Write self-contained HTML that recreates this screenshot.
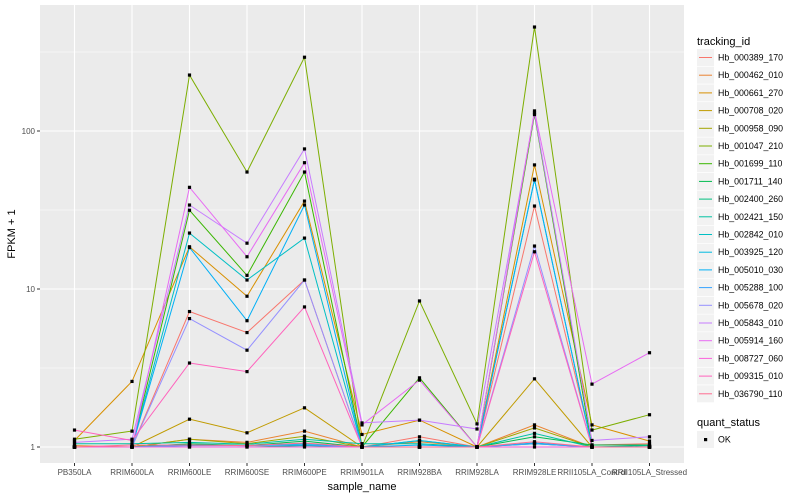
<!DOCTYPE html>
<html><head><meta charset="utf-8"><style>
body{margin:0;background:#fff;}
svg{display:block;font-family:"Liberation Sans",sans-serif;}
</style></head><body>
<svg id="chart" width="800" height="500" xmlns="http://www.w3.org/2000/svg">
<rect x="0" y="0" width="800" height="500" fill="#fff"/>
<rect x="40" y="5" width="644" height="458" fill="#EBEBEB"/>
<g id="grid"></g><g id="series"></g><g id="axes"></g><g id="legend"></g>
<text x="362" y="490" font-size="11" text-anchor="middle" fill="#000">sample_name</text>
<text x="15" y="234" font-size="11" text-anchor="middle" fill="#000" transform="rotate(-90 15 234)">FPKM + 1</text>
</svg>
<script>
const categories=["PB350LA","RRIM600LA","RRIM600LE","RRIM600SE","RRIM600PE","RRIM901LA","RRIM928BA","RRIM928LA","RRIM928LE","RRII105LA_Control","RRII105LA_Stressed"];
const seriesNames=["Hb_000389_170","Hb_000462_010","Hb_000661_270","Hb_000708_020","Hb_000958_090","Hb_001047_210","Hb_001699_110","Hb_001711_140","Hb_002400_260","Hb_002421_150","Hb_002842_010","Hb_003925_120","Hb_005010_030","Hb_005288_100","Hb_005678_020","Hb_005843_010","Hb_005914_160","Hb_008727_060","Hb_009315_010","Hb_036790_110"];
const colors=["#F8766D","#EA8331","#D89000","#C09B00","#A3A500","#7CAE00","#39B600","#00BB4E","#00BF7D","#00C1A3","#00BFC4","#00BAE0","#00B0F6","#35A2FF","#9590FF","#C77CFF","#E76BF3","#FA62DB","#FF62BC","#FF6C91"];
const s0=[1,1,7.2,5.3,11.4,1,1.16,1,33.5,1.03,1.05];
const s1=[1.02,1,1.12,1.07,1.26,1,1.08,1,1.38,1,1];
const s2=[1.1,2.6,18.5,9,36,1.2,1.48,1,61,1.38,1.09];
const s3=[1,1,1.5,1.23,1.77,1,1,1,2.7,1,1];
const s4=[1,1,1.12,1.05,1.17,1,1,1,1.32,1,1];
const s5=[1.12,1.26,226,55,293,1,8.4,1.4,455,1.28,1.6];
const s6=[1,1,31.5,12.2,55,1,2.74,1,127,1,1];
const s7=[1,1,1.05,1.02,1.09,1,1,1,1.16,1.03,1.03];
const s8=[1,1,1,1,1.02,1,1,1,1.05,1,1];
const s9=[1.05,1.05,1.07,1.04,1.12,1.05,1.05,1,1.22,1,1.02];
const s10=[1,1,22.6,11.4,21,1,1.1,1,49.5,1,1];
const s11=[1,1,1.03,1.02,1.05,1,1.1,1,1.06,1,1];
const s12=[1,1,18.3,6.3,34,1,1.03,1,49,1,1];
const s13=[1,1,1.02,1.02,1.03,1,1,1,1.05,1,1];
const s14=[1,1,6.5,4.1,11.4,1,1,1,18.7,1,1];
const s15=[1.07,1.12,34,19.5,77,1.42,1.48,1.3,130,1.1,1.16];
const s16=[1,1,44,16,63,1.38,2.65,1,134,2.5,3.95];
const s17=[1,1,1,1,1,1,1,1,1,1,1];
const s18=[1.28,1.1,3.4,3.0,7.7,1,1,1,17.2,1,1];
const s19=[1,1.03,1.03,1.02,1.06,1,1,1,1.08,1,1];
const seriesValues=[s0,s1,s2,s3,s4,s5,s6,s7,s8,s9,s10,s11,s12,s13,s14,s15,s16,s17,s18,s19];
const yTicks=[1,10,100];
const yTickLabels=["1","10","100"];

const NS="http://www.w3.org/2000/svg";
function mk(tag,attrs,parent){const e=document.createElementNS(NS,tag);for(const k in attrs)e.setAttribute(k,attrs[k]);parent.appendChild(e);return e;}
function xScale(i){return 74.5+i*57.5;}
function yScale(v){return 447-158*Math.log10(v);}
const grid=document.getElementById('grid'),ser=document.getElementById('series'),axes=document.getElementById('axes'),leg=document.getElementById('legend');
// minor grid
yTicks.forEach(t=>{const y=yScale(t*Math.sqrt(10));if(y>5){const l=mk('line',{x1:40,x2:684,y1:y,y2:y,stroke:'#fff','stroke-width':0.5},grid);

}});
yTicks.forEach((t,i)=>{const y=yScale(t);const l=mk('line',{x1:40,x2:684,y1:y,y2:y,stroke:'#fff','stroke-width':1.1},grid);


const tk=mk('line',{x1:37,x2:40,y1:y,y2:y,stroke:'#333','stroke-width':1},axes);


const tx=mk('text',{x:35,y:y+3,'font-size':8,'text-anchor':'end',fill:'#4D4D4D'},axes);tx.textContent=yTickLabels[i];

});
categories.forEach((c,i)=>{const x=xScale(i);const l=mk('line',{x1:x,x2:x,y1:5,y2:463,stroke:'#fff','stroke-width':1.1},grid);


const tk=mk('line',{x1:x,x2:x,y1:463,y2:466,stroke:'#333','stroke-width':1},axes);


const tx=mk('text',{x:x,y:475,'font-size':8,'text-anchor':'middle',fill:'#4D4D4D'},axes);tx.textContent=c;

});
seriesValues.forEach((vals,s)=>{const pts=vals.map((v,i)=>xScale(i).toFixed(1)+','+yScale(v).toFixed(1)).join(' ');
const pl=mk('polyline',{points:pts,fill:'none',stroke:colors[s],'stroke-width':1},ser);

});
seriesValues.forEach((vals,s)=>{vals.forEach((v,i)=>{const p=mk('rect',{x:xScale(i)-1.6,y:yScale(v)-1.6,width:3.2,height:3.2,fill:'#000'},ser);

});});
// legend
const lt=mk('text',{x:697,y:45,'font-size':11,fill:'#000'},leg);lt.textContent='tracking_id';


seriesNames.forEach((n,i)=>{const y=57.5+i*17.7;const g=mk('g',{},leg);


mk('rect',{x:697,y:y-8.5,width:17,height:17,fill:'#F2F2F2'},g);
mk('line',{x1:699,x2:712,y1:y,y2:y,stroke:colors[i],'stroke-width':1},g);
const t=mk('text',{x:718,y:y+3,'font-size':8.8,fill:'#000'},g);t.textContent=n;});
const qt=mk('text',{x:697,y:426,'font-size':11,fill:'#000'},leg);qt.textContent='quant_status';


const qg=mk('g',{},leg);


mk('rect',{x:697,y:431,width:17,height:17,fill:'#F2F2F2'},qg);
mk('rect',{x:704,y:438,width:3.2,height:3.2,fill:'#000'},qg);
const ok=mk('text',{x:718,y:442.5,'font-size':8.8,fill:'#000'},qg);ok.textContent='OK';
</script>
</body></html>
